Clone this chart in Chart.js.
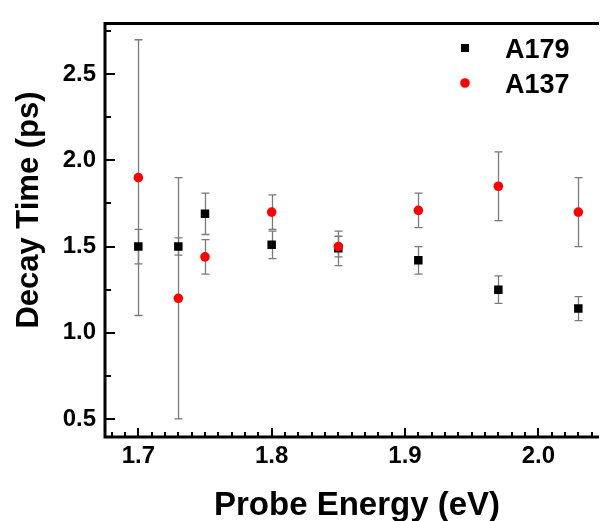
<!DOCTYPE html>
<html>
<head>
<meta charset="utf-8">
<script src="https://cdn.jsdelivr.net/npm/chart.js@4.4.0/dist/chart.umd.min.js"></script>
<style>
  html, body { margin: 0; padding: 0; background: #ffffff; }
  #wrap { width: 603px; height: 521px; }
</style>
</head>
<body>
<div id="wrap"><canvas id="c" width="603" height="521"></canvas></div>
<script>
// ---- data ----
const energy   = [1.70, 1.73, 1.75, 1.80, 1.85, 1.91, 1.97, 2.03];
const a179     = [1.50, 1.50, 1.69, 1.51, 1.49, 1.42, 1.25, 1.14];
const a179Err  = [0.10, 0.05, 0.12, 0.08, 0.10, 0.08, 0.08, 0.07];
const a137     = [1.90, 1.20, 1.44, 1.70, 1.50, 1.71, 1.85, 1.70];
const a137Err  = [0.80, 0.70, 0.10, 0.10, 0.06, 0.10, 0.20, 0.20];
const seriesNames = ["A179", "A137"];
const xTicks = [1.7, 1.8, 1.9, 2.0];
const yTicks = [0.5, 1.0, 1.5, 2.0, 2.5];
const xMinorStep = 0.01;
const yMinorStep = 0.25;
const xTitle = "Probe Energy (eV)";
const yTitle = "Decay Time (ps)";

const FONT = "'Liberation Sans', Arial, sans-serif";

function toPts(xs, ys, es) {
  return xs.map((x, i) => ({ x: x, y: ys[i], err: es[i] }));
}

const errorBarPlugin = {
  id: 'errorBars',
  beforeDatasetsDraw(chart) {
    const ctx = chart.ctx;
    const xs = chart.scales.x, ys = chart.scales.y;
    ctx.save();
    ctx.strokeStyle = '#7a7a7a';
    ctx.lineWidth = 1.3;
    chart.data.datasets.forEach((ds) => {
      ds.data.forEach((p) => {
        const px = Math.round(xs.getPixelForValue(p.x)) + 0.5;
        const top = ys.getPixelForValue(p.y + p.err);
        const bot = ys.getPixelForValue(p.y - p.err);
        const cap = 4;
        ctx.beginPath();
        ctx.moveTo(px, top); ctx.lineTo(px, bot);
        ctx.moveTo(px - cap, top); ctx.lineTo(px + cap, top);
        ctx.moveTo(px - cap, bot); ctx.lineTo(px + cap, bot);
        ctx.stroke();
      });
    });
    ctx.restore();
  }
};

const framePlugin = {
  id: 'frame',
  afterDatasetsDraw(chart) {
    const ctx = chart.ctx;
    const a = chart.chartArea;
    const xs = chart.scales.x, ys = chart.scales.y;
    ctx.save();
    ctx.strokeStyle = '#000';
    // ticks (inward)
    ctx.lineWidth = 2;
    const x0 = Math.ceil(xs.min / xMinorStep - 1e-9);
    const x1 = Math.floor(xs.max / xMinorStep + 1e-9);
    for (let k = x0; k <= x1; k++) {
      const v = k * xMinorStep;
      const major = xTicks.some(t => Math.abs(t - v) < 1e-6);
      const px = Math.round(xs.getPixelForValue(v));
      ctx.beginPath();
      ctx.moveTo(px, a.bottom);
      ctx.lineTo(px, a.bottom - (major ? 9 : 5));
      ctx.stroke();
    }
    const y0 = Math.ceil(ys.min / yMinorStep - 1e-9);
    const y1 = Math.floor(ys.max / yMinorStep + 1e-9);
    for (let k = y0; k <= y1; k++) {
      const v = k * yMinorStep;
      const major = yTicks.some(t => Math.abs(t - v) < 1e-6);
      const py = Math.round(ys.getPixelForValue(v));
      ctx.beginPath();
      ctx.moveTo(a.left, py);
      ctx.lineTo(a.left + (major ? 10 : 6), py);
      ctx.stroke();
    }
    // axis frame
    ctx.lineWidth = 3;
    ctx.beginPath();
    ctx.moveTo(a.right + 2, a.top);
    ctx.lineTo(a.left, a.top);
    ctx.lineTo(a.left, a.bottom);
    ctx.lineTo(a.right + 2, a.bottom);
    ctx.stroke();
    ctx.restore();
  },
  afterDraw(chart) {
    const ctx = chart.ctx;
    ctx.save();
    // axis titles
    ctx.fillStyle = '#000';
    ctx.textAlign = 'center';
    ctx.textBaseline = 'alphabetic';
    ctx.font = "bold 33px " + FONT;
    ctx.fillText(xTitle, 357, 515);
    ctx.save();
    ctx.translate(38, 210);
    ctx.rotate(-Math.PI / 2);
    ctx.font = "bold 31px " + FONT;
    ctx.fillText(yTitle, 0, 0);
    ctx.restore();
    // legend inside plot area
    const items = chart.data.datasets;
    const symX = 465, textX = 505;
    const rows = [48, 83];
    items.forEach((ds, i) => {
      const y = rows[i];
      ctx.fillStyle = ds.backgroundColor;
      if (ds.pointStyle === 'rect') {
        ctx.fillRect(symX - 4, y - 4, 8, 8);
      } else {
        ctx.beginPath();
        ctx.arc(symX, y, 4.8, 0, Math.PI * 2);
        ctx.fill();
      }
      ctx.fillStyle = '#000';
      ctx.font = "bold 27px " + FONT;
      ctx.textAlign = 'left';
      ctx.textBaseline = 'alphabetic';
      ctx.fillText(ds.label, textX, y + 9.5);
    });
    ctx.restore();
  }
};

const chart = new Chart(document.getElementById('c'), {
  type: 'scatter',
  data: {
    datasets: [
      {
        label: seriesNames[0],
        data: toPts(energy, a179, a179Err),
        pointStyle: 'rect',
        pointRadius: 6,
        backgroundColor: '#000000',
        borderColor: '#000000',
        borderWidth: 0,
        order: 1
      },
      {
        label: seriesNames[1],
        data: toPts(energy, a137, a137Err),
        pointStyle: 'circle',
        pointRadius: 4.8,
        backgroundColor: '#ff0000',
        borderColor: '#ff0000',
        borderWidth: 0,
        order: 0
      }
    ]
  },
  options: {
    responsive: false,
    animation: false,
    devicePixelRatio: 1,
    layout: { padding: { top: 15, left: 0, right: 0, bottom: 0 } },
    plugins: { legend: { display: false }, tooltip: { enabled: false } },
    scales: {
      x: {
        type: 'linear',
        min: 1.675,
        max: 2.044,
        afterFit(s) { s.height = 84; },
        afterBuildTicks(s) { s.ticks = xTicks.map(v => ({ value: v })); },
        grid: { display: false, drawTicks: false },
        border: { display: false },
        ticks: {
          padding: 5,
          color: '#000',
          font: { family: FONT, size: 24, weight: 'bold' },
          callback: (v) => Number(v).toFixed(1)
        },
        title: { display: false }
      },
      y: {
        type: 'linear',
        min: 0.395,
        max: 2.795,
        afterFit(s) { s.width = 105; },
        afterBuildTicks(s) { s.ticks = yTicks.map(v => ({ value: v })); },
        grid: { display: false, drawTicks: false },
        border: { display: false },
        ticks: {
          padding: 9,
          color: '#000',
          font: { family: FONT, size: 24, weight: 'bold' },
          callback: (v) => Number(v).toFixed(1)
        },
        title: { display: false }
      }
    }
  },
  plugins: [errorBarPlugin, framePlugin]
});
</script>
</body>
</html>
